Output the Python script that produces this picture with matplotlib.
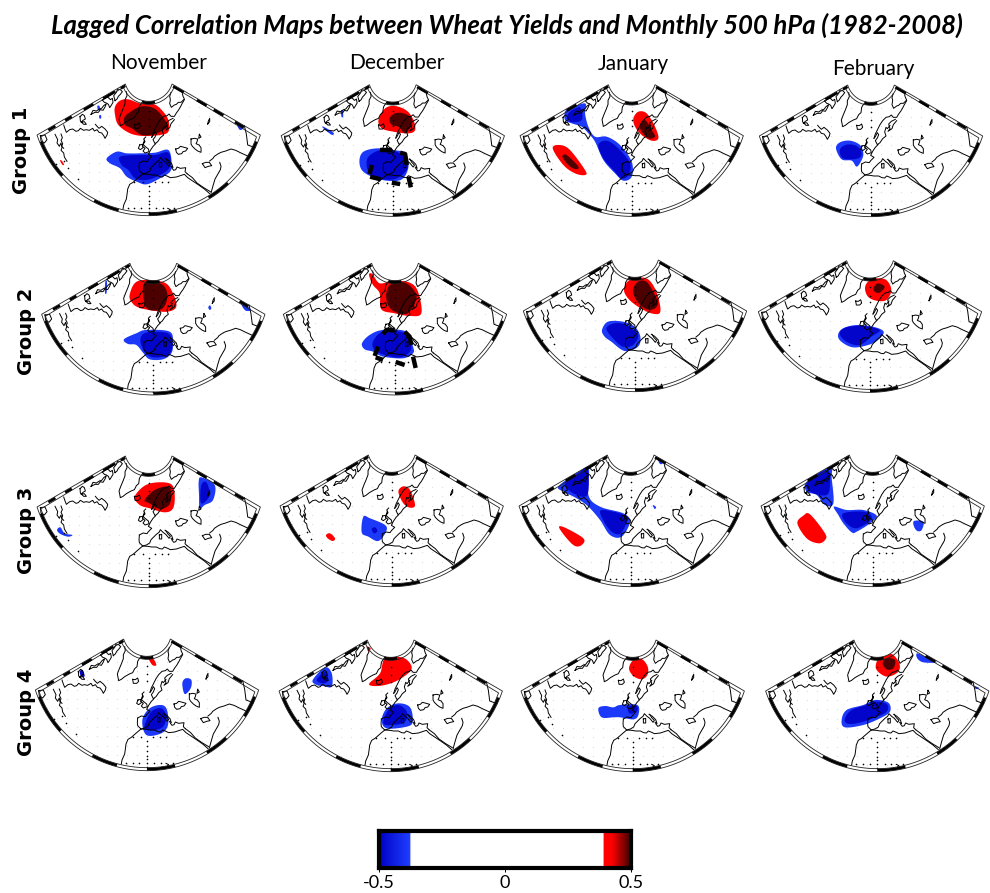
import numpy as np
import matplotlib
matplotlib.use('Agg')
import matplotlib.pyplot as plt
from matplotlib.colors import LinearSegmentedColormap, Normalize
from matplotlib.patches import Polygon

# ---------- text ----------
TITLE = 'Lagged Correlation Maps between Wheat Yields and Monthly 500 hPa (1982-2008)'
MONTHS = ['November', 'December', 'January', 'February']
GROUPS = ['Group 1', 'Group 2', 'Group 3', 'Group 4']
CB_TICKS = [-0.5, 0, 0.5]
CB_LABELS = ['-0.5', '0', '0.5']

# ---------- coastlines (map units, traced) ----------
COAST_USA = [(82,196),(86,204),(90,212),(88,222),(95,232),(100,222),(103,236),(100,244),(108,252),(110,264),(118,277)]
COAST_USA2 = [(100,195),(104,206),(100,214),(105,224),(102,232),(108,238)]
COAST_CANADA = [(108,168),(112,180),(116,190),(126,182),(135,180),(145,187),(152,185),(158,178),(168,184),(175,182),(185,184),(195,178),(200,186),(208,182),(214,190),(222,192),(228,200),(232,208),(238,198),(240,190),(232,180),(222,172),(214,178),(208,172),(203,166)]
COAST_ARCTIC1 = [(157,143),(164,136),(170,140),(173,150),(166,154),(160,160),(170,158),(176,166),(168,166),(158,156),(157,143)]
COAST_BAFFIN = [(190,136),(196,124),(206,126),(215,120),(222,118),(228,110),(236,104),(232,114),(226,124),(218,122),(212,130),(202,130),(190,136)]
COAST_ARCTIC2 = [(224,93),(232,88),(240,84),(248,92),(254,88),(256,100),(250,110),(246,116),(242,106),(236,102),(230,100),(224,93)]
COAST_ARCTIC3 = [(262,95),(258,80),(266,70),(270,60),(278,62),(284,68),(278,76),(272,82),(268,90),(262,95)]
COAST_GREENLAND = [(296,68),(298,80),(292,92),(292,104),(286,120),(280,134),(274,150),(278,170),(286,166),(296,158),(310,150),(320,146),(326,134),(333,128),(335,112),(340,104),(346,96)]
COAST_ICELAND = [(320,166),(328,167),(335,162),(338,172),(332,178),(322,178),(320,166)]
COAST_NORWAY = [(372,205),(376,192),(382,180),(390,164),(398,152),(408,142),(418,140),(424,135),(430,142),(440,142),(446,132),(452,124),(458,114),(462,106),(470,92)]
COAST_KOLA = [(430,70),(426,82),(428,92),(426,104),(431,115),(440,108),(446,106),(452,100),(460,100),(470,90),(466,82),(464,74)]
COAST_SWEDEN = [(420,166),(412,176),(408,172),(404,186),(408,198),(398,206),(390,218),(382,224),(376,212),(382,204),(386,194),(382,188),(376,200),(372,205)]
COAST_FINLAND = [(436,148),(424,154),(416,162),(420,176),(414,184),(426,176),(430,164),(440,152)]
COAST_UK = [(354,204),(348,210),(352,218),(346,226),(352,232),(362,240),(364,248),(352,252),(346,246),(352,238),(344,232),(350,214)]
COAST_IRELAND = [(336,228),(344,226),(346,236),(338,242),(332,238),(336,228)]
COAST_FRANCE = [(384,224),(376,232),(368,244),(362,256),(372,262),(362,272),(358,278),(346,276),(335,282)]
COAST_IBERIA = [(335,282),(334,296),(335,305),(345,315),(356,312),(366,306),(370,296),(380,286),(386,280),(394,274),(398,266),(406,274),(414,280),(424,292),(428,286),(420,278),(414,268)]
COAST_BALKAN = [(432,296),(438,304),(444,302),(448,294),(458,298),(474,296),(472,308),(478,314)]
COAST_ADRIA = [(412,268),(422,274),(432,284),(436,296),(430,292)]
COAST_SARDINIA = [(395,282),(402,280),(402,294),(395,294),(395,282)]
COAST_NAFRICA = [(345,315),(360,316),(372,318),(386,318),(396,323),(404,324),(410,318),(420,322),(428,326),(446,324),(458,320),(470,316),(480,326),(495,336),(510,346),(530,360),(546,374)]
COAST_WAFRICA = [(345,315),(332,326),(316,340),(306,346),(300,360),(298,376),(296,390),(288,408),(286,420)]
COAST_RED = [(478,314),(494,326),(508,342),(528,356),(548,368)]
COAST_BLACK = [(444,240),(452,238),(458,232),(466,234),(480,238),(474,246),(466,248),(462,254),(452,256),(446,250),(444,240)]
COAST_CASPIAN = [(524,284),(534,280),(545,280),(552,290),(542,292),(532,296),(524,284)]
COAST_PERSIA = [(546,276),(556,268),(560,262),(572,254),(580,250),(594,246),(610,240),(624,244),(640,252),(662,262)]
COAST_ARABIA = [(576,280),(580,292),(578,302),(570,316),(562,330),(556,350),(550,372)]
COAST_WHITE = [(490,210),(500,208),(510,210),(508,218),(505,224),(514,228),(520,236),(520,250),(510,246),(502,240),(494,232),(490,225),(490,210)]
COAST_DOT = [(515,196),(520,204),(513,208),(515,196)]
COAST_ZEMLYA = [(540,165),(542,156),(546,148),(546,158),(540,165)]
COAST_EAST = [(650,170),(656,196),(660,228),(682,236)]
COAST_CIRCLE = [(38,200),(52,198),(58,212),(50,222),(40,216),(38,200)]
COAST_SPECK = [(420,418),(428,422),(424,426)]
COASTS = [COAST_USA, COAST_USA2, COAST_CANADA, COAST_ARCTIC1, COAST_BAFFIN, COAST_ARCTIC2,
          COAST_ARCTIC3, COAST_GREENLAND, COAST_ICELAND, COAST_NORWAY, COAST_KOLA, COAST_SWEDEN,
          COAST_FINLAND, COAST_UK, COAST_IRELAND, COAST_FRANCE, COAST_IBERIA, COAST_BALKAN,
          COAST_ADRIA, COAST_SARDINIA, COAST_NAFRICA, COAST_WAFRICA, COAST_RED, COAST_BLACK,
          COAST_CASPIAN, COAST_PERSIA, COAST_ARABIA, COAST_WHITE, COAST_DOT, COAST_ZEMLYA,
          COAST_EAST, COAST_CIRCLE, COAST_SPECK]
COAST_ORIGIN = (363, 45)
BLACK_DOT_X = [363,363,363,363,363,363,363, 363,363,363,363, 320,345,382,402,420, 300,320,340,385,405,440, 120,85,108,150]
BLACK_DOT_Y = [350,365,380,395,405,418,430, 100,125,150,170, 340,340,340,340,340, 418,418,418,418,418,418, 297,285,275,330]

# ---------- correlation patches: (level, outline), in each panel's own traced frame ----------
LO_B, HI_B, LO_R, HI_R = -0.39, -0.49, 0.41, 0.49

G1_NOV = [(LO_R,[(225,110),(240,92),(265,88),(300,100),(340,102),(365,120),(385,150),(385,185),(360,195),(310,198),(270,190),(235,165),(225,135)]),
          (HI_R,[(252,145),(265,130),(300,110),(335,112),(360,130),(382,165),(370,180),(340,193),(305,195),(275,175),(255,165)]),
          (LO_B,[(200,265),(230,245),(260,250),(300,250),(345,248),(385,240),(395,280),(390,305),(360,325),(320,343),(290,335),(260,320),(240,295),(210,280)]),
          (HI_B,[(240,260),(300,255),(345,255),(385,248),(390,290),(360,315),(320,330),(285,325),(265,300),(245,285)]),
          (LO_B,[(172,108),(178,108),(180,120),(174,120)]),
          (LO_B,[(178,136),(183,136),(183,145),(178,145)]),
          (LO_R,[(60,272),(65,272),(72,284),(67,284)]),
          (LO_B,[(592,165),(612,172),(600,180)])]
G1_DEC = [(LO_R,[(325,150),(345,115),(375,108),(410,122),(430,150),(435,180),(415,190),(370,185),(335,175)]),
          (HI_R,[(358,145),(375,130),(400,130),(425,145),(420,170),(405,190),(385,170),(365,165)]),
          (LO_B,[(268,270),(280,245),(320,235),(370,240),(405,250),(415,290),(395,328),(350,332),(305,320),(275,300)]),
          (HI_B,[(295,260),(330,240),(370,242),(400,260),(412,295),(380,325),(340,328),(305,318),(290,290)]),
          (LO_B,[(213,122),(218,122),(219,140),(214,140)]),
          (LO_B,[(157,172),(164,172),(190,188),(184,194)])]
G1_JAN = [(LO_B,[(885,125),(900,115),(945,100),(945,130),(955,170),(975,200),(1010,200),(1050,225),(1085,275),(1085,320),(1060,332),(1035,310),(1000,270),(975,215),(955,190),(935,170),(905,160),(885,150)]),
          (HI_B,[(895,130),(930,112),(935,150),(900,155)]),
          (HI_B,[(985,225),(1010,212),(1045,235),(1080,280),(1075,315),(1055,325),(1030,300),(1000,265)]),
          (LO_R,[(848,235),(870,225),(900,240),(945,300),(945,315),(915,310),(880,285)]),
          (HI_R,[(877,260),(890,255),(925,290),(915,297),(895,285)]),
          (LO_R,[(1090,145),(1105,125),(1130,130),(1155,170),(1165,205),(1145,212),(1115,195),(1095,170)]),
          (HI_R,[(1110,165),(1125,150),(1145,180),(1155,200),(1135,205),(1115,185)])]
G1_FEB = [(LO_B,[(258,235),(270,217),(300,212),(330,225),(340,250),(335,270),(320,290),(305,272),(275,268)]),
          (HI_B,[(270,238),(290,224),(320,228),(335,250),(325,265),(295,268),(275,262)])]
G2_NOV = [(LO_R,[(300,135),(315,100),(345,90),(405,98),(430,130),(440,170),(415,185),(370,182),(325,172),(305,155)]),
          (HI_R,[(342,145),(345,100),(390,100),(410,120),(412,150),(395,178),(355,178)]),
          (LO_B,[(283,268),(320,250),(350,240),(420,245),(430,280),(425,310),(400,328),(360,328),(340,308),(320,285),(295,282)]),
          (HI_B,[(332,270),(350,248),(415,250),(428,285),(415,315),(370,322),(345,305)]),
          (LO_B,[(227,95),(232,95),(231,128),(226,128)]),
          (LO_B,[(536,172),(541,166),(545,175),(540,180)]),
          (LO_B,[(636,165),(648,165),(664,180),(648,182)])]
G2_DEC = [(LO_R,[(1018,75),(1028,72),(1050,100),(1090,92),(1140,98),(1165,125),(1175,190),(1140,198),(1095,190),(1055,178),(1050,130),(1030,105)]),
          (HI_R,[(1070,130),(1085,102),(1130,100),(1160,135),(1150,170),(1130,192),(1095,185),(1075,165)]),
          (LO_B,[(997,280),(1020,255),(1060,240),(1130,245),(1150,290),(1150,310),(1120,325),(1060,320),(1030,305),(1005,298)]),
          (HI_B,[(1030,275),(1060,245),(1125,250),(1145,295),(1115,322),(1065,315),(1035,300)])]
G2_JAN = [(LO_R,[(343,118),(360,90),(410,85),(440,125),(452,185),(425,190),(385,170),(355,145)]),
          (HI_R,[(370,120),(385,95),(410,95),(430,125),(445,160),(430,178),(405,175),(380,150)]),
          (LO_B,[(277,240),(295,215),(340,215),(375,230),(392,260),(385,290),(345,303),(305,275),(285,260)]),
          (HI_B,[(290,235),(315,220),(350,225),(385,255),(370,285),(340,290),(310,265)])]
G2_FEB = [(LO_R,[(1066,115),(1075,95),(1100,85),(1130,90),(1145,120),(1130,150),(1100,152),(1075,140)]),
          (HI_R,[(1092,112),(1105,100),(1125,110),(1110,128),(1095,125)]),
          (LO_B,[(985,255),(1000,235),(1040,225),(1090,230),(1122,245),(1105,270),(1075,285),(1030,292),(995,275)]),
          (HI_B,[(990,250),(1010,232),(1060,228),(1110,240),(1085,260),(1050,285),(1010,275)])]
G3_NOV = [(LO_R,[(315,155),(345,122),(385,112),(425,118),(435,150),(430,190),(405,202),(360,190),(330,180)]),
          (HI_R,[(345,165),(375,135),(415,125),(425,150),(418,180),(390,192),(360,175)]),
          (LO_B,[(507,110),(515,97),(555,120),(550,165),(525,180),(510,190),(508,150)]),
          (HI_B,[(515,120),(530,112),(540,150),(520,175),(512,165)]),
          (LO_B,[(82,255),(92,247),(105,265),(128,270),(115,275),(92,267)])]
G3_DEC = [(LO_R,[(1105,140),(1120,124),(1140,135),(1155,180),(1140,188),(1120,175)]),
          (LO_B,[(1000,215),(1020,220),(1065,240),(1068,260),(1045,288),(1015,275),(995,262)]),
          (HI_B,[(1025,252),(1035,247),(1042,258),(1032,265)]),
          (LO_R,[(888,270),(900,265),(915,280),(908,288),(893,280)])]
G3_JAN = [(LO_B,[(145,125),(190,90),(235,65),(235,150),(270,185),(340,205),(360,230),(335,275),(300,270),(270,225),(235,185),(200,160),(160,140)]),
          (HI_B,[(165,115),(205,85),(232,70),(232,150),(190,145)]),
          (HI_B,[(270,200),(300,198),(350,215),(345,245),(325,268),(295,250)]),
          (LO_R,[(147,247),(165,248),(220,280),(215,300),(195,303),(170,280)]),
          (LO_B,[(445,45),(458,55),(450,57)]),
          (LO_B,[(428,180),(438,186),(434,192)])]
G3_FEB = [(LO_R,[(862,235),(880,212),(900,208),(945,265),(945,285),(925,295),(890,280)]),
          (LO_B,[(890,110),(960,65),(965,100),(970,175),(945,180),(920,150),(890,140)]),
          (HI_B,[(893,112),(950,75),(960,110),(950,150),(900,140)]),
          (LO_B,[(972,185),(1010,195),(1060,195),(1100,212),(1080,235),(1040,260),(1025,262),(1000,235),(985,210)]),
          (HI_B,[(1000,205),(1060,200),(1085,215),(1070,235),(1035,250),(1005,230)]),
          (LO_B,[(1212,228),(1240,230),(1235,255),(1222,258),(1212,245)])]
G4_NOV = [(LO_B,[(338,270),(360,235),(395,225),(412,240),(415,285),(395,310),(350,315)]),
          (HI_B,[(345,285),(365,245),(395,235),(410,260),(400,290),(375,300),(350,298)]),
          (HI_B,[(150,125),(158,120),(165,138),(155,140)]),
          (LO_R,[(357,85),(370,85),(380,105),(368,105)]),
          (LO_B,[(458,160),(468,145),(485,150),(483,175),(465,192)])]
G4_DEC = [(LO_R,[(1018,160),(1050,130),(1065,85),(1115,82),(1140,100),(1142,122),(1105,150),(1065,165),(1030,168)]),
          (LO_R,[(1010,50),(1022,55),(1015,65)]),
          (LO_B,[(1055,270),(1070,235),(1105,220),(1140,232),(1148,275),(1130,290),(1070,295)]),
          (HI_B,[(1060,280),(1075,240),(1105,225),(1130,245),(1125,275),(1090,285)]),
          (LO_B,[(848,150),(885,112),(905,130),(905,170),(880,168),(860,165)]),
          (HI_B,[(860,150),(885,125),(895,150),(880,160)])]
G4_JAN = [(LO_R,[(357,115),(370,90),(395,87),(413,110),(412,135),(395,148),(370,138)]),
          (LO_B,[(265,235),(285,228),(310,232),(330,225),(382,225),(385,255),(370,268),(330,262),(310,262),(275,262)]),
          (HI_B,[(355,230),(380,228),(380,245),(358,250)])]
G4_FEB = [(LO_R,[(1097,110),(1110,80),(1145,72),(1168,100),(1165,125),(1135,140),(1110,130)]),
          (HI_R,[(1118,100),(1130,85),(1155,90),(1150,115),(1130,118)]),
          (LO_B,[(995,270),(1010,240),(1060,225),(1095,210),(1135,218),(1140,245),(1110,265),(1060,285),(1005,292)]),
          (HI_B,[(1005,265),(1025,240),(1070,225),(1095,215),(1130,222),(1130,245),(1090,265),(1040,280),(1010,280)]),
          (LO_B,[(1222,70),(1255,85),(1280,97),(1240,97),(1222,85)]),
          (LO_B,[(1392,168),(1408,174),(1398,177)])]

# thick dashed contour fragments
G1_DEC_DASH = [[(330,240),(365,240)],[(390,248),(405,252),(410,285)],[(305,285),(298,312)],[(300,320),(332,328)],[(365,338),(390,342)],[(415,320),(422,352)]]
G2_DEC_DASH = [[(1060,252),(1070,240),(1095,240)],[(1125,245),(1140,260),(1145,285)],[(1045,290),(1035,318)],[(1038,322),(1060,330)],[(1098,336),(1125,345)],[(1150,320),(1158,354)]]

PANEL_DATA = [[G1_NOV, G1_DEC, G1_JAN, G1_FEB],
              [G2_NOV, G2_DEC, G2_JAN, G2_FEB],
              [G3_NOV, G3_DEC, G3_JAN, G3_FEB],
              [G4_NOV, G4_DEC, G4_JAN, G4_FEB]]
TRACE_ORIGIN = [[(326,42),(368,44),(1085,44),(363,45)],
                [(371,40),(1096,40),(376,30),(1081,32)],
                [(357,33),(1085,30),(362,30),(1088,30)],
                [(352,27),(1082,30),(368,30),(1102,30)]]
PANEL_DASH = {(0,1): G1_DEC_DASH, (1,1): G2_DEC_DASH}
PANEL_CENTER_X = [[148.7,392.8,631.7,871.0],[153.3,395.0,635.0,870.0],[148.7,391.7,630.7,872.7],[147.0,390.7,632.7,877.3]]
PANEL_TOP_Y = [[84,84.7,84.7,85],[263.3,263.3,260,260.7],[456,455,455,455],[639,640,640,640]]

# ---------- frame geometry ----------
CORNER_X, CORNER_Y, NOTCH_X, BOTTOM_Y, NOTCH_SAG = 335., 153., 70., 395., 52.
OUTER_R = (CORNER_X**2 + (BOTTOM_Y-CORNER_Y)**2) / (2*(BOTTOM_Y-CORNER_Y))
OUTER_C = BOTTOM_Y - OUTER_R
INNER_R = (NOTCH_X**2 + NOTCH_SAG**2) / (2*NOTCH_SAG)
INNER_C = NOTCH_SAG - INNER_R
OUTER_A = np.degrees(np.arctan2(CORNER_X, CORNER_Y-OUTER_C))
INNER_A = np.degrees(np.arctan2(NOTCH_X, -INNER_C))
BOTTOM_SPANS = [(68,48),(28,15),(0,-14),(-31,-43),(-57,-68)]
LEFT_SPANS = [(.12,.2),(.31,.385),(.52,.63),(.74,.875),(.94,.99)]
RIGHT_SPANS = [(.02,.14),(.29,.40),(.48,.59),(.72,.82)]
INNER_SPANS = [(14,-14)]
BAND = 9.0

def arc(radius, centre, a0, a1, n=60):
    a = np.radians(np.linspace(a0, a1, n))
    return np.c_[-radius*np.sin(a), centre+radius*np.cos(a)]

def frame_outline(inset):
    lower = arc(OUTER_R-inset, OUTER_C, OUTER_A-inset/6, -OUTER_A+inset/6, 90)
    upper = arc(INNER_R+inset, INNER_C, -INNER_A+inset*0.6, INNER_A-inset*0.6, 40)
    return np.vstack([lower, upper])

def side_line(sign, f0, f1, inset):
    p0 = np.array([sign*CORNER_X, CORNER_Y]); p1 = np.array([sign*NOTCH_X, 0.])
    d = (p1-p0)/np.linalg.norm(p1-p0)
    n = np.array([-d[1], d[0]]) * (1 if sign > 0 else -1)
    if sign < 0:
        n = np.array([d[1], -d[0]])
    if n[1] < 0:
        n = -n
    return np.array([p0+(p1-p0)*f0+n*inset, p0+(p1-p0)*f1+n*inset])

def smooth_closed(pts, n=10):
    """Closed Catmull-Rom curve through the traced outline points."""
    p = np.asarray(pts, float)
    out = []
    t = np.linspace(0, 1, n, endpoint=False)[:, None]
    for i in range(len(p)):
        p0, p1, p2, p3 = p[i-1], p[i], p[(i+1) % len(p)], p[(i+2) % len(p)]
        out.append(0.5*((2*p1) + (-p0+p2)*t + (2*p0-5*p1+4*p2-p3)*t**2 + (-p0+3*p1-3*p2+p3)*t**3))
    return np.vstack(out)

# ---------- colour scale ----------
CMAP = LinearSegmentedColormap.from_list('corr', [
    (0.0, (0,0,0.78)), (0.124, (0.125,0.25,1)), (0.1241,(1,1,1)),
    (0.888,(1,1,1)), (0.8881,(1,0,0)), (0.92,(1,0,0)), (1.0,(0.2,0,0))], N=1024)
NORM = Normalize(-0.5, 0.5)

W, H = 990, 893
fig = plt.figure(figsize=(W/100, H/100), dpi=100, facecolor='white')
narrow = ['Lato', 'Liberation Sans']

outline = frame_outline(0)
gx, gy = np.meshgrid(np.arange(-330, 331, 30), np.arange(12, 395, 28))
gx, gy = gx.ravel(), gy.ravel()

for r in range(4):
    for c in range(4):
        cx, ty = PANEL_CENTER_X[r][c], PANEL_TOP_Y[r][c]
        ax = fig.add_axes([(cx-115)/W, 1-(ty+140)/H, 230/W, 145/H])
        ax.set_xlim(-345, 345); ax.set_ylim(420, -15); ax.axis('off')
        clip = Polygon(outline, closed=True, transform=ax.transData, fc='none', ec='none')
        ax.add_patch(clip)
        ox, oy = TRACE_ORIGIN[r][c]
        ins = (gx**2+(gy-OUTER_C)**2 < (OUTER_R-8)**2) & (gx**2+(gy-INNER_C)**2 > (INNER_R+8)**2) & \
              (gy > (np.abs(gx)-NOTCH_X)*CORNER_Y/(CORNER_X-NOTCH_X)+8)
        ax.scatter(gx[ins], gy[ins], s=0.8, c='#dedede', linewidths=0, zorder=1)
        for level, pts in PANEL_DATA[r][c]:
            p = smooth_closed(np.array(pts, float)-[ox, oy])
            patch = ax.fill(p[:,0], p[:,1], color=CMAP(NORM(level)), lw=0, zorder=2 + abs(level))[0]
            patch.set_clip_path(clip)
        for seg in COASTS:
            s = np.array(seg, float)-COAST_ORIGIN
            ax.plot(s[:,0], s[:,1], color='k', lw=0.7, zorder=4, solid_joinstyle='round')
        ax.scatter(np.array(BLACK_DOT_X)-COAST_ORIGIN[0], np.array(BLACK_DOT_Y)-COAST_ORIGIN[1],
                   s=1.4, c='k', linewidths=0, zorder=4)
        for seg in PANEL_DASH.get((r,c), []):
            s = np.array(seg, float)-[ox, oy]
            ax.plot(s[:,0], s[:,1], color='k', lw=3.2, zorder=5, solid_capstyle='butt')
        for ins_d in (0, BAND):
            o = frame_outline(ins_d)
            ax.fill(o[:,0], o[:,1], fc='none', ec='#222222', lw=0.6, zorder=6)
        mid = BAND/2
        for a0, a1 in BOTTOM_SPANS:
            s = arc(OUTER_R-mid, OUTER_C, a0, a1, 24)
            ax.plot(s[:,0], s[:,1], color='k', lw=1.9, zorder=7, solid_capstyle='butt')
        for a0, a1 in INNER_SPANS:
            s = arc(INNER_R+mid, INNER_C, a0, a1, 12)
            ax.plot(s[:,0], s[:,1], color='k', lw=1.9, zorder=7, solid_capstyle='butt')
        for sign, spans in ((-1, LEFT_SPANS), (1, RIGHT_SPANS)):
            for f0, f1 in spans:
                if sign > 0:
                    f0, f1 = 1-f0, 1-f1
                s = side_line(sign, f0, f1, mid)
                ax.plot(s[:,0], s[:,1], color='k', lw=1.9, zorder=7, solid_capstyle='butt')

# ---------- labels ----------
fig.text(507/W, 1-25/H, TITLE, ha='center', va='center', fontsize=18.5, fontweight='bold',
         fontstyle='italic', family=narrow)
for x, y, m in zip([159,397,633,873], [63,63,64,69], MONTHS):
    fig.text(x/W, 1-y/H, m, ha='center', va='center', fontsize=15, family=narrow)
for x, y, g in zip([22,26,27,26], [150,331,530,712], GROUPS):
    fig.text(x/W, 1-y/H, g, ha='center', va='center', rotation=90, fontsize=14, fontweight='bold', family='DejaVu Sans')

# ---------- colour bar ----------
cax = fig.add_axes([378.5/W, 1-868/H, 252.5/W, 37/H])
vals = np.linspace(-0.5, 0.5, 1024)[None, :]
cax.imshow(vals, cmap=CMAP, norm=NORM, aspect='auto', extent=[-0.5, 0.5, 0, 1])
cax.set_yticks([])
cax.set_xticks(CB_TICKS)
cax.set_xticklabels(CB_LABELS, family=narrow, fontsize=13)
cax.tick_params(axis='x', length=3, width=0.7, pad=2)
for sp in cax.spines.values():
    sp.set_linewidth(3)

fig.savefig('out.png', dpi=100)
